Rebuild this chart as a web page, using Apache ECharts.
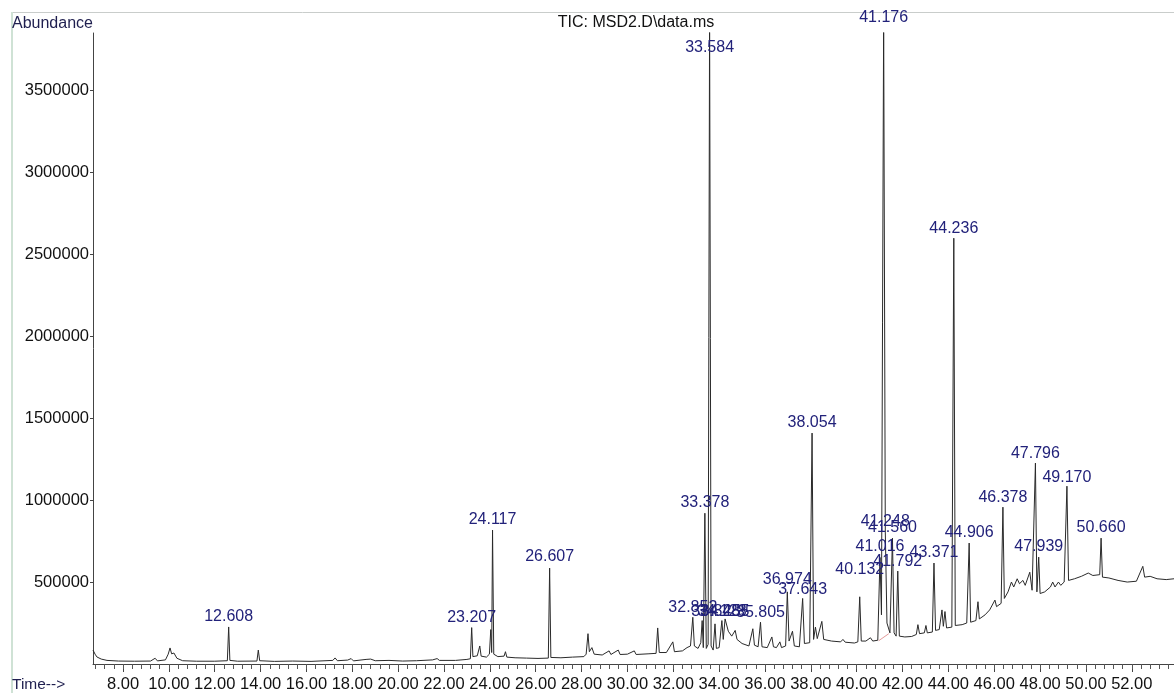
<!DOCTYPE html>
<html>
<head>
<meta charset="utf-8">
<script src="https://cdn.jsdelivr.net/npm/echarts@6/dist/echarts.min.js"></script>
<style>
html,body{margin:0;padding:0;background:#fff;}
#chart{width:1174px;height:693px;}
</style>
</head>
<body>
<div id="chart"></div>
<script>
// Total ion chromatogram trace: [retention time (min), abundance]
const trace = [
[6.69,85000],[6.78,60000],[6.86,43000],[7.05,30000],[7.3,22000],[7.8,18000],[8.5,17000],[9.2,18000],[9.4,35000],[9.5,19000],
[9.85,25000],[9.97,60000],[10.05,98000],[10.12,62000],[10.22,67000],[10.35,35000],[10.6,20000],[11.2,17000],[12.0,17000],[12.55,20000],
[12.608,226000],[12.66,22000],[13.0,17000],[13.84,18000],[13.9,85000],[13.96,20000],[14.6,16000],[15.4,18000],[16.2,16000],[17.15,22000],
[17.25,37000],[17.35,20000],[17.8,24000],[17.95,33000],[18.05,19000],[18.6,28000],[18.8,30000],[19.0,20000],[19.6,22000],[20.2,18000],
[20.8,20000],[21.5,25000],[21.7,33000],[21.8,22000],[22.5,22000],[23.0,28000],[23.15,32000],[23.207,222000],[23.26,45000],[23.45,50000],
[23.56,110000],[23.62,48000],[23.85,42000],[23.98,60000],[24.04,210000],[24.08,70000],[24.117,817000],[24.17,60000],[24.35,45000],[24.62,48000],
[24.68,75000],[24.74,42000],[25.1,38000],[25.6,36000],[26.1,34000],[26.55,36000],[26.607,585000],[26.66,40000],[27.1,38000],[27.6,42000],
[28.1,45000],[28.2,60000],[28.28,185000],[28.34,75000],[28.45,100000],[28.55,60000],[28.9,55000],[29.2,80000],[29.28,58000],[29.6,85000],
[29.68,58000],[30.0,60000],[30.3,80000],[30.38,58000],[30.9,62000],[31.25,65000],[31.32,220000],[31.39,70000],[31.7,70000],[31.98,135000],
[32.05,75000],[32.4,80000],[32.6,100000],[32.75,110000],[32.852,285000],[32.92,110000],[33.08,95000],[33.2,130000],[33.26,265000],[33.31,100000],
[33.378,920000],[33.44,95000],[33.52,120000],[33.584,3950000],[33.65,110000],[33.74,85000],[33.82,245000],[33.88,95000],[34.0,100000],[34.12,265000],
[34.18,150000],[34.26,275000],[34.4,200000],[34.55,170000],[34.7,205000],[34.78,150000],[35.0,125000],[35.3,110000],[35.47,215000],[35.54,115000],
[35.7,105000],[35.805,255000],[35.87,105000],[36.1,100000],[36.3,165000],[36.37,105000],[36.5,100000],[36.65,135000],[36.72,100000],[36.9,110000],
[36.974,440000],[37.05,140000],[37.2,200000],[37.28,110000],[37.5,105000],[37.643,400000],[37.72,125000],[37.95,130000],[38.054,1409000],[38.12,150000],
[38.2,225000],[38.28,155000],[38.48,260000],[38.56,150000],[38.9,140000],[39.3,135000],[39.4,150000],[39.5,133000],[39.9,128000],[40.05,135000],
[40.132,410000],[40.2,140000],[40.4,140000],[40.6,160000],[40.7,140000],[40.92,145000],[41.016,650000],[41.08,300000],[41.176,3950000],[41.248,805000],
[41.32,250000],[41.45,190000],[41.56,768000],[41.63,190000],[41.72,170000],[41.792,567000],[41.86,170000],[42.1,165000],[42.4,168000],[42.6,180000],
[42.67,240000],[42.74,185000],[42.95,190000],[43.02,235000],[43.08,190000],[43.3,195000],[43.371,616000],[43.44,205000],[43.6,210000],[43.72,330000],
[43.78,230000],[43.85,320000],[43.92,220000],[44.15,225000],[44.236,2598000],[44.3,235000],[44.6,240000],[44.8,250000],[44.906,738000],[44.97,255000],
[45.2,265000],[45.29,380000],[45.35,275000],[45.6,300000],[45.8,330000],[46.03,390000],[46.1,350000],[46.3,370000],[46.378,957000],[46.44,400000],
[46.6,440000],[46.75,500000],[46.85,470000],[47.0,520000],[47.1,490000],[47.25,510000],[47.35,480000],[47.55,560000],[47.65,450000],[47.796,1226000],
[47.86,440000],[47.939,652000],[48.0,430000],[48.2,440000],[48.45,470000],[48.55,500000],[48.65,470000],[48.8,500000],[48.9,480000],[49.05,500000],
[49.17,1085000],[49.24,510000],[49.5,520000],[49.8,535000],[50.1,555000],[50.3,540000],[50.6,545000],[50.66,768000],[50.72,530000],[51.0,525000],
[51.4,510000],[51.8,500000],[52.2,505000],[52.48,596000],[52.56,530000],[52.8,535000],[53.1,520000],[53.5,515000],[53.84,520000]
];

// Integration baseline drawn under the 41.176 peak
const integration = [[40.96,142000],[41.40,185000]];

// Peak annotations: retention time, label text, abundance at which the label sits
const peakTimes  = [12.608,23.207,24.117,26.607,32.852,33.378,33.584,33.848,34.128,34.255,35.805,36.974,37.643,38.054,40.132,41.016,41.176,41.248,41.560,41.792,43.371,44.236,44.906,46.378,47.796,47.939,49.170,50.660];
const peakNames  = ['12.608','23.207','24.117','26.607','32.852','33.378','33.584','33.848','34.128','34.255','35.805','36.974','37.643','38.054','40.132','41.016','41.176','41.248','41.560','41.792','43.371','44.236','44.906','46.378','47.796','47.939','49.170','50.660'];
const peakLabelAt = [226000,220000,817000,591000,280000,921000,3701000,256000,256000,256000,250000,451000,390000,1409000,512000,652000,3884000,805000,768000,561000,616000,2598000,738000,951000,1220000,652000,1079000,768000];

// Axis ticks
const xTickValues = [8,10,12,14,16,18,20,22,24,26,28,30,32,34,36,38,40,42,44,46,48,50,52];
const yTickValues = [500000,1000000,1500000,2000000,2500000,3000000,3500000];
const xMinorTicks = [];
for (let i = 0; i <= 117; i++) xMinorTicks.push(+(6.8 + i * 0.4).toFixed(1));

const FONT = '"Liberation Sans", Arial, Helvetica, sans-serif';
const chart = echarts.init(document.getElementById('chart'), null, {renderer: 'canvas'});
const labelData = peakTimes.map((t, i) => ({value: [t, peakLabelAt[i]], name: peakNames[i]}));

chart.setOption({
  animation: false,
  backgroundColor: '#ffffff',
  grid: {left: 93, right: 0, top: 33, bottom: 29, containLabel: false},
  xAxis: [{
    type: 'value', min: 6.69, max: 53.84,
    axisLine: {show: true, lineStyle: {color: '#444', width: 1}},
    axisTick: {show: true, customValues: xTickValues, length: 8, lineStyle: {color: '#444'}},
    axisLabel: {customValues: xTickValues, formatter: v => v.toFixed(2), margin: 12,
      fontFamily: FONT, fontSize: 16.5, color: '#111'},
    splitLine: {show: false}
  }, {
    type: 'value', min: 6.69, max: 53.84, position: 'bottom',
    axisLine: {show: false},
    axisTick: {show: true, customValues: xMinorTicks, length: 5, lineStyle: {color: '#555'}},
    axisLabel: {show: false},
    splitLine: {show: false}
  }],
  yAxis: {
    type: 'value', min: 0, max: 3850000,
    axisLine: {show: true, lineStyle: {color: '#444', width: 1}},
    axisTick: {show: true, customValues: yTickValues, length: 3, lineStyle: {color: '#444'}},
    axisLabel: {customValues: yTickValues, formatter: v => String(v), margin: 4,
      fontFamily: FONT, fontSize: 16.5, color: '#111'},
    splitLine: {show: false}
  },
  series: [{
    type: 'line', data: trace, showSymbol: false, symbol: 'none', clip: true,
    lineStyle: {color: '#2a2a2a', width: 1}, sampling: false, z: 2
  }, {
    type: 'line', data: integration, showSymbol: false, symbol: 'none',
    lineStyle: {color: '#e39a9a', width: 1}, z: 1
  }, {
    type: 'scatter', data: labelData, symbolSize: 0.1, clip: false,
    itemStyle: {color: 'rgba(0,0,0,0)', opacity: 1},
    label: {show: true, position: 'top', distance: 2, formatter: p => p.name,
      fontFamily: FONT, fontSize: 16, color: '#22227a'},
    z: 5
  }],
  graphic: [
    {type: 'line', shape: {x1: 12, y1: 12.5, x2: 1174, y2: 12.5}, style: {stroke: '#c9cdcb', lineWidth: 1}},
    {type: 'line', shape: {x1: 12, y1: 12, x2: 12, y2: 693}, style: {stroke: '#cfe2d5', lineWidth: 2}},
    {type: 'text', style: {text: 'Abundance', x: 12, y: 24, textAlign: 'left', textVerticalAlign: 'middle',
      font: '16px ' + FONT, fill: '#1f1f4f'}},
    {type: 'text', style: {text: 'TIC: MSD2.D\\data.ms', x: 636, y: 23, textAlign: 'center', textVerticalAlign: 'middle',
      font: '16px ' + FONT, fill: '#111'}},
    {type: 'text', style: {text: 'Time-->', x: 12, y: 685, textAlign: 'left', textVerticalAlign: 'middle',
      font: '15.5px ' + FONT, fill: '#1f1f4f'}}
  ]
});
</script>
</body>
</html>
